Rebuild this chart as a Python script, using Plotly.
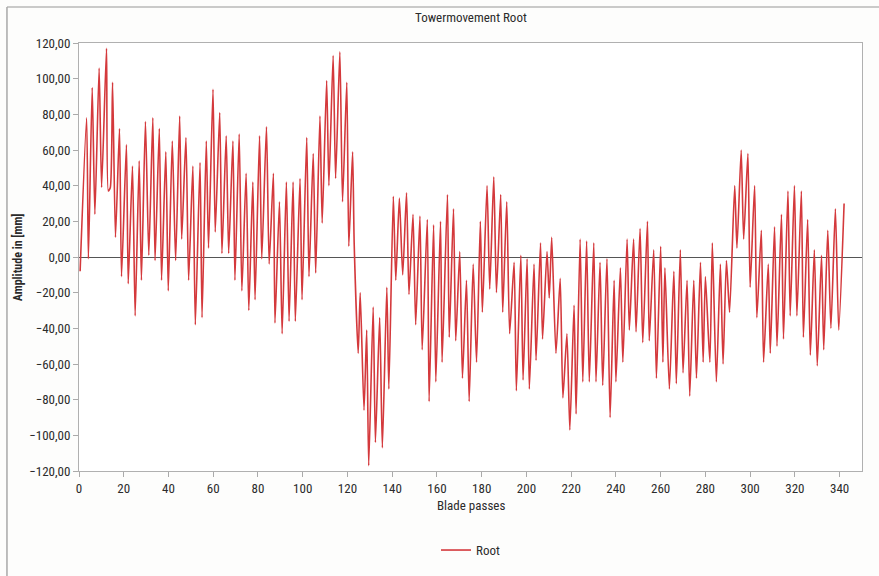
import plotly.graph_objects as go

# Blade passes (x) and tower root amplitude in mm (y), read from turning points
blade_passes = [
    0.5, 3.4, 4.2, 5.9, 7.1, 9.0, 10.1, 12.3, 13.1, 14.0, 15.0, 16.3, 18.1, 19.0, 21.2, 22.0, 23.9, 25.1,
    26.9, 27.9, 29.7, 31.2, 33.0, 34.0, 35.9, 36.9, 38.8, 39.9, 41.7, 43.2, 45.0, 45.9, 47.8, 49.0,
    50.9, 52.0, 54.1, 55.0, 56.9, 57.9, 59.9,
    60.9, 62.9, 63.9, 65.8, 66.9, 68.8, 69.7, 71.6, 72.8, 74.7, 75.9, 77.7, 78.7, 80.7, 81.7, 83.8,
    85.0, 86.9, 87.6, 89.6, 90.8, 92.7, 93.9, 95.7, 96.7, 98.8, 99.7, 101.8, 102.8, 104.7, 105.8,
    107.7, 108.7, 110.7, 111.7, 113.6, 114.7, 116.6, 117.8, 119.7, 120.6, 122.3, 123.0,
    124.8, 125.7, 127.4, 128.6, 129.5, 131.5, 132.5, 134.4, 135.6, 137.6, 138.5, 140.5, 141.6, 143.2,
    144.7, 146.4, 147.5, 149.3, 150.5, 152.4, 153.4, 155.7, 156.5, 158.5, 159.5, 161.6, 162.3, 164.7,
    165.5, 167.4, 168.4, 170.2, 171.4, 173.2, 174.4, 176.2,
    177.7, 179.4, 180.3, 182.4, 183.6, 185.4, 186.6, 188.5, 189.4, 191.2, 192.5, 194.5, 195.5, 197.5,
    198.5, 200.3, 201.3, 203.4, 204.3, 206.3, 207.2, 209.2, 210.2, 211.3, 213.2, 215.1, 216.3, 218.1,
    219.4, 221.3, 222.2, 224.0, 225.2, 226.9, 228.1, 230.1, 231.1, 232.9,
    234.1, 236.0, 237.4, 239.2, 240.0, 242.0, 243.1, 245.0, 246.0, 247.9, 249.0, 250.8, 252.0, 254.1,
    254.9, 256.9, 258.1, 260.0, 261.0, 261.9, 263.9, 265.9, 267.0, 268.8, 270.0, 271.8, 273.0, 274.8,
    276.0, 277.8, 279.0, 280.0, 282.0, 283.1, 284.9, 286.7, 287.9,
    289.4, 290.8, 293.1, 294.1, 296.0, 297.1, 299.0, 300.0, 302.0, 303.0, 305.0, 306.0, 308.1, 309.0,
    310.9, 312.0, 314.0, 314.9, 316.9, 317.9, 319.8, 320.9, 322.9, 323.8, 325.7, 326.9, 328.7, 330.0,
    331.9, 332.9, 334.7, 336.1, 338.1, 339.6, 342.0,
]
amplitude_mm = [
    -8, 78, -1, 95, 24, 106, 39, 117, 37, 39, 98, 11, 72, -11, 63, -15, 51, -33,
    54, -13, 76, 1, 78, -2, 72, -13, 59, -19, 65, -2, 79, 10, 67, -13,
    51, -38, 53, -34, 65, 5, 94,
    14, 81, 2, 68, 2, 65, -13, 69, -19, 47, -30, 42, -24, 68, -1, 73,
    -4, 47, -37, 31, -43, 42, -36, 42, -36, 44, -24, 67, -11, 58, -9,
    79, 19, 99, 40, 113, 44, 115, 31, 98, 6, 59, 8,
    -54, -20, -86, -41, -117, -28, -104, -34, -107, -17, -74, 34, -13, 33,
    -10, 36, -21, 24, -38, 23, -52, 21, -81, 18, -70, 20, -59, 35,
    -45, 27, -47, 3, -68, -13, -81, -4,
    -59, 20, -31, 40, -18, 45, -20, 35, -31, 31, -43, -3, -75, 1,
    -69, -1, -74, -4, -58, 8, -46, 3, -23, 11, -54, -12, -79, -43,
    -97, -27, -88, 10, -70, 9, -70, 8, -70, -3,
    -72, -1, -90, -13, -70, -6, -59, 10, -41, 10, -42, 16, -48, 20,
    -47, 4, -68, 6, -59, -6, -74, -8, -71, 4, -65, -13, -78, -13,
    -68, -3, -59, -11, -59, 8, -70, -4, -60,
    -2, -31, 40, 5, 60, 10, 58, -17, 40, -34, 15, -59, -4, -54,
    17, -50, 24, -46, 37, -33, 40, -33, 37, -45, 21, -55, 4, -61,
    1, -52, 15, -40, 27, -41, 30,
]

x_ticks = [0, 20, 40, 60, 80, 100, 120, 140, 160, 180, 200, 220, 240, 260, 280, 300, 320, 340]
y_ticks = [-120, -100, -80, -60, -40, -20, 0, 20, 40, 60, 80, 100, 120]

FONT = "Liberation Sans Narrow, Arial Narrow, Roboto Condensed, Roboto, sans-serif"
TXT = "#2b2b2b"

fig = go.Figure()
fig.add_trace(go.Scatter(
    x=blade_passes, y=amplitude_mm, mode="lines", name="Root",
    line=dict(color="#d4393c", width=1.6, shape="spline", smoothing=0.6),
))

fig.update_layout(
    width=879, height=576,
    margin=dict(l=79, r=17, t=43, b=104),
    paper_bgcolor="#fdfdfc", plot_bgcolor="#ffffff",
    separators=",.",
    font=dict(family=FONT, size=12, color=TXT),
    showlegend=True,
    legend=dict(orientation="h", x=0.5, xanchor="center", y=-0.182, yanchor="middle",
                font=dict(family=FONT, size=13, color=TXT), bgcolor="rgba(0,0,0,0)"),
    xaxis=dict(range=[0, 350], tickvals=x_ticks, ticks="outside", ticklen=5,
               tickcolor="#aaaaaa", showgrid=False, zeroline=False,
               showline=True, linecolor="#b0b0b0", mirror=True, linewidth=1,
               tickfont=dict(family=FONT, size=13, color=TXT)),
    yaxis=dict(range=[-120, 120], tickvals=y_ticks, tickformat=".2f", ticks="outside",
               ticklen=5, tickcolor="#aaaaaa", showgrid=False,
               zeroline=True, zerolinecolor="#555555", zerolinewidth=1,
               showline=True, linecolor="#b0b0b0", mirror=True, linewidth=1,
               tickfont=dict(family=FONT, size=13, color=TXT)),
    annotations=[
        dict(text="Towermovement Root", xref="paper", yref="paper", x=0.5, y=1.06,
             xanchor="center", yanchor="middle", showarrow=False,
             font=dict(family=FONT, size=13, color=TXT)),
        dict(text="Blade passes", xref="paper", yref="paper", x=0.5, y=-0.08,
             xanchor="center", yanchor="middle", showarrow=False,
             font=dict(family=FONT, size=13, color=TXT)),
        dict(text="<b>Amplitude in [mm]</b>", xref="paper", yref="paper", x=-0.079, y=0.5,
             xanchor="center", yanchor="middle", showarrow=False, textangle=-90,
             font=dict(family=FONT, size=12, color=TXT)),
    ],
    shapes=[
        dict(type="line", xref="paper", yref="paper", x0=-0.092, x1=1.03, y0=1.084, y1=1.084,
             line=dict(color="#b8b8b8", width=1.5)),
        dict(type="line", xref="paper", yref="paper", x0=-0.092, x1=-0.092, y0=1.084, y1=-0.25,
             line=dict(color="#a8a8a8", width=1.5)),
    ],
)

fig.write_html("out.html")
